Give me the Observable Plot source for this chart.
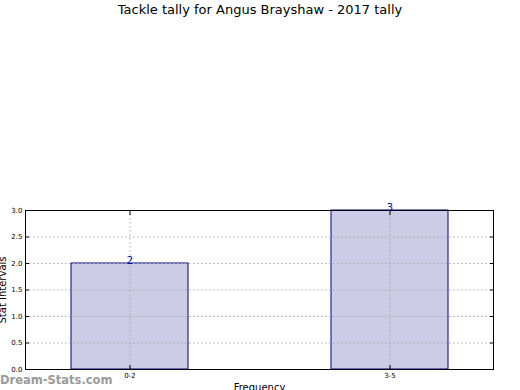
<!DOCTYPE html>
<html>
<head>
<meta charset="utf-8">
<script src="https://cdn.jsdelivr.net/npm/d3@7"></script>
<script src="https://cdn.jsdelivr.net/npm/@observablehq/plot@0.6"></script>
<style>
  body { margin: 0; width: 520px; height: 390px; overflow: hidden; background: #fff; font-family: "DejaVu Sans", sans-serif; position: relative; }
  #title { height: 20px; line-height: 20px; text-align: center; font-size: 13px; color: #000; }
  #wm { position: absolute; left: 0px; top: 373px; font-size: 11.5px; font-weight: bold; color: #9a9a9a; }
  svg { display: block; overflow: visible; }
</style>
</head>
<body>
<div id="title">Tackle tally for Angus Brayshaw - 2017 tally</div>
<div id="chart"></div>
<div id="wm">Dream-Stats.com</div>
<script>
const categories = ["0-2", "3-5"];
const values = [2, 3];
const yTicks = [0, 0.5, 1, 1.5, 2, 2.5, 3];
const xLabel = "Frequency";
const yLabel = "Stat Intervals";

const data = categories.map((c, i) => ({cat: c, val: values[i]}));

const chart = Plot.plot({
  width: 520,
  height: 370,
  marginTop: 190,
  marginLeft: 25,
  marginRight: 27,
  marginBottom: 21,
  style: {fontFamily: "DejaVu Sans, sans-serif", background: "white", overflow: "visible"},
  x: {type: "band", domain: categories, paddingInner: 0.55, paddingOuter: 0.175, align: 0.5},
  y: {domain: [0, 3]},
  marks: [
    Plot.barY(data, {x: "cat", y: "val", fill: "#ccccE6", stroke: "#000080", strokeWidth: 1}),
    Plot.gridY(yTicks, {stroke: "#aaa", strokeOpacity: 1, strokeDasharray: "1.5,2.5"}),
    Plot.gridX(categories, {stroke: "#aaa", strokeOpacity: 1, strokeDasharray: "1.5,2.5"}),
    Plot.frame({stroke: "black"}),
    Plot.axisY(yTicks, {anchor: "left", tickSize: -4, tickPadding: 7, tickFormat: d3.format(".1f"), fontSize: 7, label: null, color: "black"}),
    Plot.axisY(yTicks, {anchor: "right", tickSize: -4, tickFormat: () => "", label: null}),
    Plot.axisX(categories, {anchor: "bottom", tickSize: -4, tickPadding: 8, fontSize: 7, label: null}),
    Plot.axisX(categories, {anchor: "top", tickSize: -4, tickFormat: () => "", label: null}),
    Plot.text([yLabel], {frameAnchor: "left", textAnchor: "middle", dx: -23, rotate: -90, fontSize: 10, fill: "black"}),
    Plot.text([xLabel], {frameAnchor: "bottom", dy: 21, fontSize: 10, fill: "black"}),
    Plot.text(data, {x: "cat", y: "val", text: d => String(d.val), lineAnchor: "bottom", dy: 0, fill: "#000080", fontSize: 10})
  ]
});
document.getElementById("chart").appendChild(chart);
</script>
</body>
</html>
